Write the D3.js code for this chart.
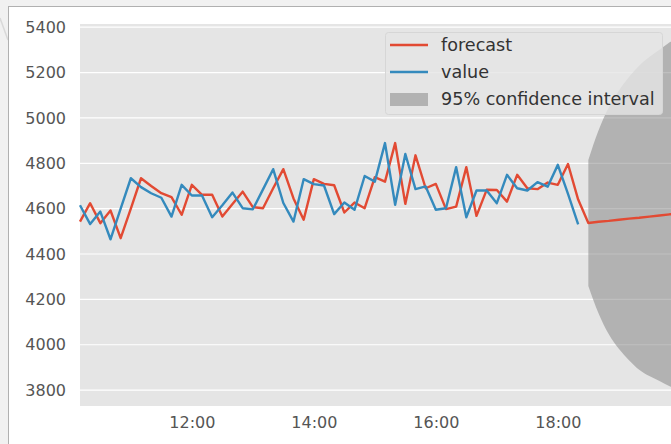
<!DOCTYPE html>
<html>
<head>
<meta charset="utf-8">
<script src="https://cdn.jsdelivr.net/npm/d3@7"></script>
<style>
  body { margin: 0; background: #f1f1f1; }
  svg { display: block; font-family: "DejaVu Sans", sans-serif; }
</style>
</head>
<body>
<div id="chart"></div>
<script>
// observed values, every 10 minutes from 10:10 to 18:20
const valueSeries = [
  4615, 4532, 4587, 4465, 4600, 4734, 4695, 4668, 4648, 4565,
  4705, 4658, 4658, 4562, 4615, 4671, 4602, 4597, 4685, 4774,
  4625, 4543, 4730, 4708, 4702, 4576, 4627, 4595, 4744, 4719,
  4889, 4617, 4841, 4686, 4698, 4595, 4602, 4783, 4562, 4680,
  4680, 4624, 4749, 4690, 4680, 4717, 4697, 4793, 4665, 4531
];

// in-sample prediction 10:10 .. 18:20, then forecast 18:30 onward
const forecastSeries = [
  4543, 4624, 4536, 4592, 4470, 4600, 4734, 4700, 4668, 4651,
  4573, 4705, 4661, 4661, 4565, 4620, 4675, 4607, 4602, 4690,
  4774, 4645, 4551, 4730, 4709, 4703, 4583, 4627, 4602, 4739,
  4719, 4889, 4621, 4835, 4690, 4709, 4598, 4609, 4783, 4568,
  4683, 4682, 4631, 4749, 4690, 4686, 4715, 4705, 4797, 4640,
  4537, 4542, 4546, 4551, 4556, 4560, 4565, 4570, 4575, 4579
];

// 95% confidence interval, 18:30 onward
const ciUpper = [4815, 4945, 5045, 5120, 5180, 5230, 5268, 5300, 5333, 5360];
const ciLower = [4259, 4139, 4047, 3982, 3932, 3890, 3862, 3840, 3817, 3798];

const yTicks = [3800, 4000, 4200, 4400, 4600, 4800, 5000, 5200, 5400];
const xTickLabels = ["12:00", "14:00", "16:00", "18:00"];
const legendLabels = ["forecast", "value", "95% confidence interval"];

const width = 671, height = 444;
const margin = { left: 80, top: 24, bottom: 38 };

const parseTime = d3.timeParse("%H:%M");
const start = parseTime("10:10");
const times = d3.timeMinute.every(10).range(start, parseTime("20:10"));

const x = d3.scaleTime()
  .domain([start, parseTime("20:10")])
  .range([margin.left, 690]);

const y = d3.scaleLinear()
  .domain([3730, 5414])
  .range([height - margin.bottom, margin.top]);

const svg = d3.select("#chart").append("svg")
  .attr("width", width)
  .attr("height", height);

// faint artifact + white card
svg.append("line")
  .attr("x1", 0).attr("y1", 18).attr("x2", 8).attr("y2", 40)
  .attr("stroke", "#d9d9d9").attr("stroke-width", 1.5);
svg.append("rect")
  .attr("x", 8.5).attr("y", 6.5)
  .attr("width", 700).attr("height", 500)
  .attr("fill", "#fff").attr("stroke", "#b0b0b0");

// plot background
svg.append("rect")
  .attr("x", margin.left).attr("y", margin.top)
  .attr("width", 700).attr("height", height - margin.bottom - margin.top)
  .attr("fill", "#e5e5e5");

// horizontal grid
svg.append("g")
  .selectAll("line")
  .data(yTicks)
  .join("line")
  .attr("x1", margin.left).attr("x2", width)
  .attr("y1", (d) => y(d)).attr("y2", (d) => y(d))
  .attr("stroke", "#fff").attr("stroke-width", 1.2);

// y axis labels
svg.append("g")
  .selectAll("text")
  .data(yTicks)
  .join("text")
  .attr("x", margin.left - 14)
  .attr("y", (d) => y(d))
  .attr("dy", "0.35em")
  .attr("text-anchor", "end")
  .attr("font-size", 16)
  .attr("fill", "#555")
  .text((d) => d);

// x axis labels
const xAxis = d3.axisBottom(x)
  .tickValues(xTickLabels.map(parseTime))
  .tickFormat(d3.timeFormat("%H:%M"))
  .tickSize(0)
  .tickPadding(11);

svg.append("g")
  .attr("transform", `translate(0,${height - margin.bottom})`)
  .call(xAxis)
  .call((g) => g.select(".domain").remove())
  .call((g) => g.selectAll("text")
    .attr("font-size", 16)
    .attr("fill", "#555")
    .attr("font-family", "DejaVu Sans, sans-serif"));

// confidence interval
const ciData = ciUpper.map((u, i) => ({ t: times[50 + i], u: u, l: ciLower[i] }));
svg.append("path")
  .datum(ciData)
  .attr("fill", "#808080")
  .attr("fill-opacity", 0.5)
  .attr("d", d3.area()
    .curve(d3.curveMonotoneX)
    .x((d) => x(d.t))
    .y0((d) => y(d.l))
    .y1((d) => y(d.u)));

const line = d3.line()
  .x((d, i) => x(times[i]))
  .y((d) => y(d));

svg.append("path")
  .datum(forecastSeries)
  .attr("fill", "none")
  .attr("stroke", "#E24A33")
  .attr("stroke-width", 2.4)
  .attr("stroke-linejoin", "round")
  .attr("d", line);

svg.append("path")
  .datum(valueSeries)
  .attr("fill", "none")
  .attr("stroke", "#348ABD")
  .attr("stroke-width", 2.4)
  .attr("stroke-linejoin", "round")
  .attr("d", line);

// legend
const legend = svg.append("g").attr("transform", "translate(385,32)");
legend.append("rect")
  .attr("x", 0.5).attr("y", 0.5)
  .attr("width", 277).attr("height", 82)
  .attr("rx", 3)
  .attr("fill", "#e5e5e5").attr("fill-opacity", 0.8)
  .attr("stroke", "#d6d6d6");

const rowY = [13, 40, 67];
legend.selectAll(".handle")
  .data(["#E24A33", "#348ABD"])
  .join("line")
  .attr("x1", 5).attr("x2", 43)
  .attr("y1", (d, i) => rowY[i]).attr("y2", (d, i) => rowY[i])
  .attr("stroke", (d) => d).attr("stroke-width", 2.4);

legend.append("rect")
  .attr("x", 5).attr("y", rowY[2] - 6)
  .attr("width", 38).attr("height", 13)
  .attr("fill", "#808080").attr("fill-opacity", 0.5);

legend.selectAll("text")
  .data(legendLabels)
  .join("text")
  .attr("x", 56)
  .attr("y", (d, i) => rowY[i])
  .attr("dy", "0.35em")
  .attr("font-size", 17.6)
  .attr("fill", "#333")
  .text((d) => d);
</script>
</body>
</html>
